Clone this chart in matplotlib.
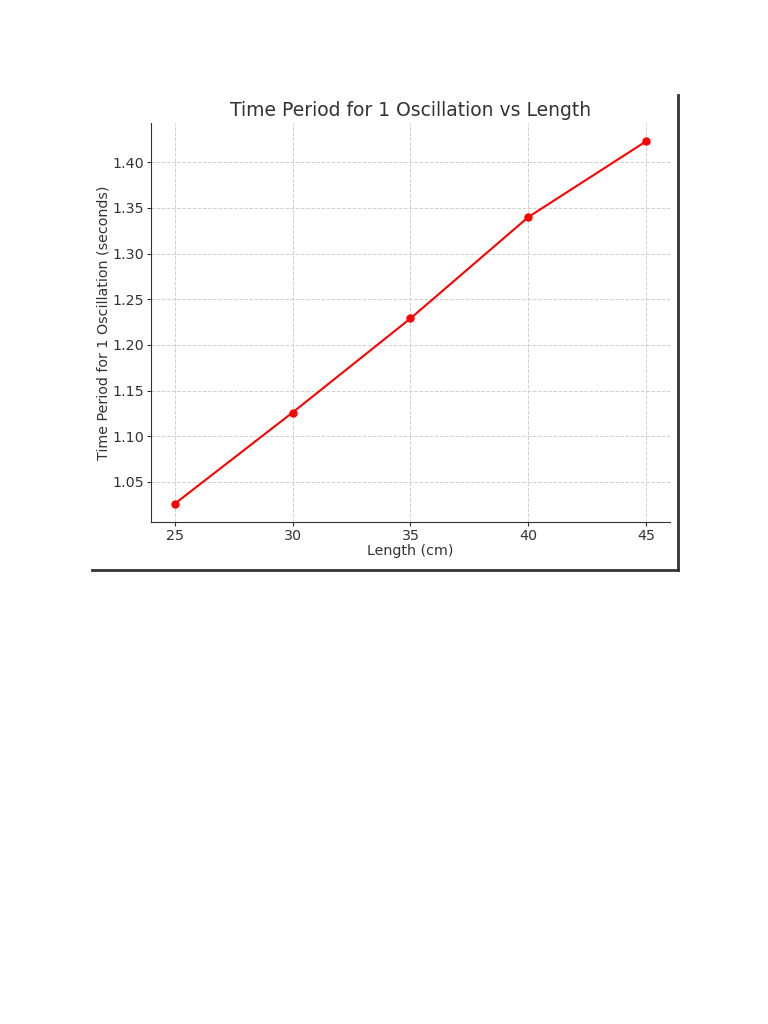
import matplotlib
matplotlib.use("Agg")
import matplotlib.pyplot as plt
from matplotlib.lines import Line2D

# values
lengths = [25, 30, 35, 40, 45]
periods = [1.026, 1.126, 1.229, 1.340, 1.423]
y_ticks = [1.05, 1.10, 1.15, 1.20, 1.25, 1.30, 1.35, 1.40]

text_color = "#333333"

fig = plt.figure(figsize=(7.68, 10.24), dpi=100)
ax = fig.add_axes([0.1966, 0.4902, 0.6758, 0.3897])

ax.plot(lengths, periods, color="red", marker="o", markersize=5, linewidth=1.5)

ax.set_title("Time Period for 1 Oscillation vs Length", fontsize=13.5, color=text_color, pad=5)
ax.set_xlabel("Length (cm)", fontsize=10.3, color=text_color, labelpad=1)
ax.set_ylabel("Time Period for 1 Oscillation (seconds)", fontsize=10.3, color=text_color, labelpad=1)

ax.set_xticks(lengths)
ax.set_yticks(y_ticks)
ax.tick_params(labelsize=10.3, colors=text_color, length=3, pad=2)

ax.grid(True, linestyle="--", color="#d0d0d0", linewidth=0.7)
ax.set_axisbelow(True)
for side in ["top", "right"]:
    ax.spines[side].set_visible(False)
for side in ["left", "bottom"]:
    ax.spines[side].set_color(text_color)

# frame edges of the pasted image
fig.add_artist(Line2D([678 / 768, 678 / 768], [1 - 95 / 1024, 1 - 570 / 1024],
                      transform=fig.transFigure, color="#333333", linewidth=2))
fig.add_artist(Line2D([92 / 768, 678 / 768], [1 - 570 / 1024, 1 - 570 / 1024],
                      transform=fig.transFigure, color="#333333", linewidth=2))

fig.savefig("out.png", dpi=100)
